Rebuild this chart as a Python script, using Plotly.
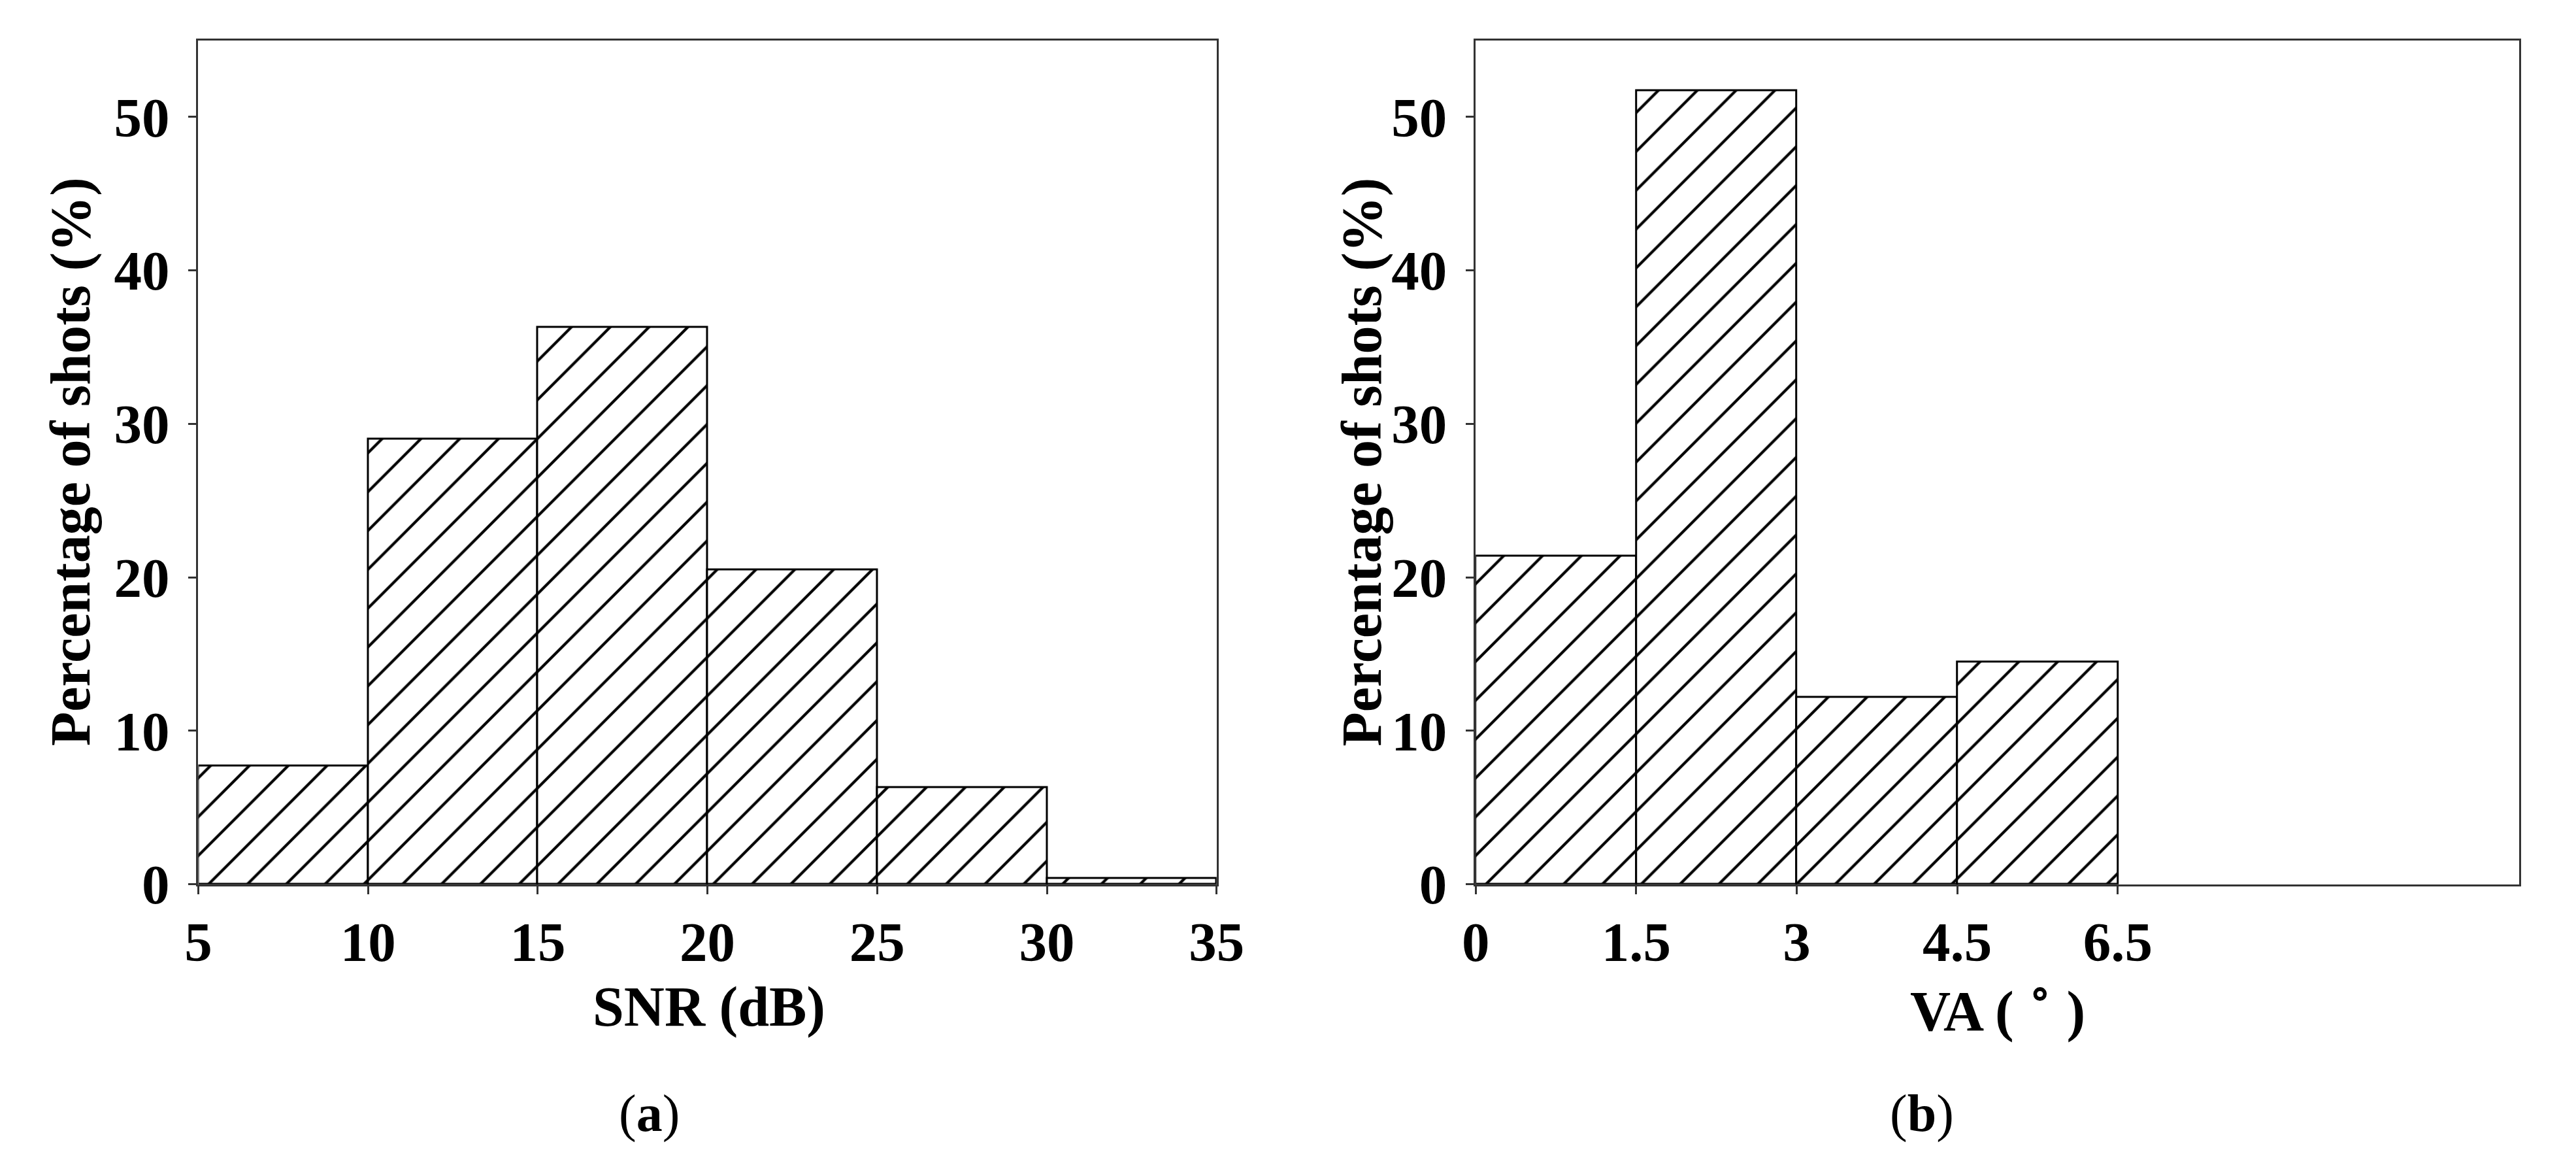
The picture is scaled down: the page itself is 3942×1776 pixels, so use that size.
import plotly.graph_objects as go
from plotly.subplots import make_subplots

# (a) SNR histogram, bin edges in dB
snr_edges = [5, 10, 15, 20, 25, 30, 35]
snr_pct = [7.7, 29.0, 36.3, 20.5, 6.3, 0.4]

# (b) VA histogram, bins drawn with equal width
va_tick_labels = ["0", "1.5", "3", "4.5", "6.5"]
va_pct = [21.4, 51.7, 12.2, 14.5]

y_ticks = [0, 10, 20, 30, 40, 50]

FONT = "Liberation Serif"
frame_col = "#333333"

fig = make_subplots(rows=1, cols=2)

hatch = dict(shape="/", size=42, solidity=0.1, fgcolor="black",
             bgcolor="white", fillmode="replace")

snr_mid = [(a + b) / 2 for a, b in zip(snr_edges[:-1], snr_edges[1:])]
snr_w = [b - a for a, b in zip(snr_edges[:-1], snr_edges[1:])]
fig.add_bar(x=snr_mid, y=snr_pct, width=snr_w, row=1, col=1,
            marker=dict(color="white", pattern=hatch,
                        line=dict(color="black", width=3)),
            showlegend=False)

va_idx = list(range(len(va_tick_labels)))
va_mid = [i + 0.5 for i in range(len(va_pct))]
fig.add_bar(x=va_mid, y=va_pct, width=[1] * len(va_pct), row=1, col=2,
            marker=dict(color="white", pattern=hatch,
                        line=dict(color="black", width=3)),
            showlegend=False)

axis_style = dict(showline=True, mirror=True, linecolor=frame_col, linewidth=3,
                  ticks="outside", ticklen=12, tickwidth=3, tickcolor=frame_col,
                  showgrid=False, zeroline=False,
                  tickfont=dict(family=FONT, size=85, color="black", weight="bold"))

fig.update_xaxes(axis_style, ticklabelstandoff=0)
fig.update_yaxes(axis_style, ticklabelstandoff=12)

fig.update_xaxes(row=1, col=1, range=[5, 35], tickvals=snr_edges,
                 domain=[279 / 3942, 1863 / 3942])
fig.update_xaxes(row=1, col=2, range=[0, 6.5], tickvals=va_idx,
                 ticktext=va_tick_labels, domain=[2266 / 3942, 3889 / 3942])
fig.update_yaxes(range=[0, 55], tickvals=y_ticks, domain=[1 - 1382 / 1776, 1 - 55 / 1776])

title_font = dict(family=FONT, size=86, color="black", weight="bold")
cap_font = dict(family=FONT, size=80, color="black")

annotations = [
    dict(text="SNR (dB)", x=1073 / 3942, y=1 - 1575 / 1776, font=title_font),
    dict(text="VA ( <sup>∘</sup> )", x=3078 / 3942, y=1 - 1575 / 1776, font=title_font),
    dict(text="Percentage of shots (%)", x=80 / 3942, y=1 - 718 / 1776,
         textangle=-90, font=title_font),
    dict(text="Percentage of shots (%)", x=2088 / 3942, y=1 - 718 / 1776,
         textangle=-90, font=title_font),
    dict(text="(<b>a</b>)", x=980 / 3942, y=1 - 1743 / 1776, font=cap_font),
    dict(text="(<b>b</b>)", x=2960 / 3942, y=1 - 1743 / 1776, font=cap_font),
]
for a in annotations:
    a.update(xref="paper", yref="paper", xanchor="center", yanchor="middle",
             showarrow=False)

fig.update_layout(
    width=3942, height=1776,
    margin=dict(l=0, r=0, t=0, b=0),
    paper_bgcolor="white", plot_bgcolor="white",
    bargap=0,
    annotations=annotations,
)

fig.write_html("out.html")
